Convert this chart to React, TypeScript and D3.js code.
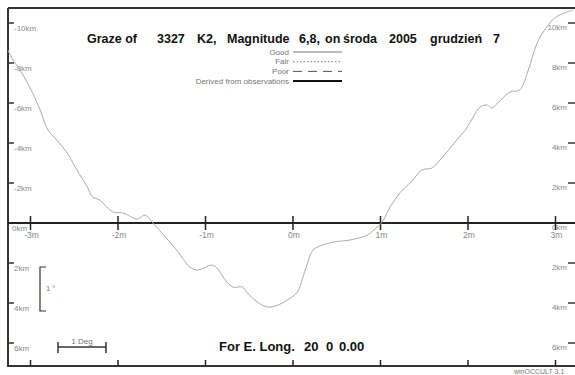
import React from "react";
import * as d3 from "d3";

// profile: minutes of arc from central line vs km from limit
const profMin = [
  -3.26, -3.2, -3.12, -3.01, -2.89, -2.8, -2.7, -2.58, -2.47, -2.35, -2.29, -2.21,
  -2.06, -1.94, -1.78, -1.69, -1.61, -1.46, -1.33, -1.18, -1.09, -0.93, -0.87, -0.8,
  -0.69, -0.58, -0.53, -0.41, -0.29, -0.17, -0.03, 0.05, 0.14, 0.23, 0.34, 0.46,
  0.65, 0.85, 0.96, 1.02, 1.11, 1.22, 1.37, 1.47, 1.59, 1.68, 1.76, 1.87, 1.97,
  2.06, 2.14, 2.22, 2.27, 2.34, 2.48, 2.59, 2.69, 2.79, 2.9, 2.99, 3.13, 3.2,
];
const profKm = [
  -8.65, -8.15, -7.65, -6.8, -5.65, -4.65, -4.15, -3.5, -2.65, -1.8, -1.3, -1.15,
  -0.55, -0.5, -0.2, -0.4, -0.05, 0.7, 1.35, 2.2, 2.35, 2.1, 2.25, 2.7,
  3.2, 3.2, 3.45, 3.95, 4.2, 4.1, 3.75, 3.45, 2.35, 1.35, 1.1, 0.95,
  0.85, 0.6, 0.2, -0.05, -0.8, -1.5, -2.15, -2.65, -2.75, -3.15, -3.55, -4.15, -4.65,
  -5.3, -5.8, -5.9, -5.75, -6.0, -6.55, -6.65, -7.65, -9.0, -9.8, -10.25, -10.55, -10.65,
];
const kmTicks = [-10, -8, -6, -4, -2, 0, 2, 4, 6];
const minTicks = [-3, -2, -1, 0, 1, 2, 3];
const legendItems = ["Good", "Fair", "Poor", "Derived from observations"];
const titleWords = ["Graze of", "3327", "K2,", "Magnitude", "6,8,", "on", "środa", "2005", "grudzień", "7"];
const titleX = [87, 157, 197, 227, 299, 325, 343, 389, 430, 493];
const longWords = ["For E. Long.", "20", "0", "0.00"];
const longX = [219, 304, 326, 339];

const W = 575;
const H = 375;
const F = "'Liberation Sans', Arial, sans-serif";

export default function App() {
  const x = d3.scaleLinear().domain([-3, 3]).range([30.5, 555.5]);
  const y = d3.scaleLinear().domain([-10, 6]).range([23, 343]);
  const pts = profMin.map((m, i) => [m, profKm[i]] as [number, number]);
  const line = d3
    .line<[number, number]>()
    .x((d) => x(d[0]))
    .y((d) => y(d[1]))
    .curve(d3.curveCatmullRom);

  const legendStyles = [
    { w: 1, dash: "", c: "#777" },
    { w: 1, dash: "1.5 2", c: "#777" },
    { w: 1, dash: "9 6", c: "#555" },
    { w: 2, dash: "", c: "#111" },
  ];
  const lblColor = "#888";

  return (
    <svg
      width={W}
      height={H}
      style={{ position: "absolute", left: 0, top: 0, background: "#fff" }}
      fontFamily={F}
    >
      {/* frame */}
      <line x1={8} y1={8} x2={W} y2={8} stroke="#333" strokeWidth={2} />
      <line x1={8} y1={8} x2={8} y2={367} stroke="#333" strokeWidth={2} />
      <line x1={8} y1={366} x2={W} y2={366} stroke="#333" strokeWidth={2} />

      {/* km ticks left and right */}
      {kmTicks.map((k) => (
        <g key={"k" + k}>
          {k !== 0 && <line x1={8} x2={14} y1={y(k)} y2={y(k)} stroke="#333" strokeWidth={1.5} />}
          {k !== 0 && <line x1={568} x2={W} y1={y(k)} y2={y(k)} stroke="#333" strokeWidth={1.5} />}
          <text x={k === 0 ? 12 : 14} y={y(k) + 7.5} fontSize={8} fill={lblColor}>
            {k + "km"}
          </text>
          <text x={567} y={y(k) + 6.5} fontSize={8} fill={lblColor} textAnchor="end">
            {Math.abs(k) + "km"}
          </text>
        </g>
      ))}

      {/* central axis */}
      <line x1={8} x2={W} y1={y(0)} y2={y(0)} stroke="#222" strokeWidth={2} />
      {minTicks.map((m) => (
        <g key={"m" + m}>
          <line x1={x(m)} x2={x(m)} y1={y(0) - 7} y2={y(0) + 7} stroke="#222" strokeWidth={1.5} />
          <line x1={x(m)} x2={x(m)} y1={360} y2={366} stroke="#222" strokeWidth={1.5} />
          <text x={x(m) + 1} y={y(0) + 15} fontSize={8.5} fill={lblColor} textAnchor="middle">
            {m + "m"}
          </text>
        </g>
      ))}

      {/* profile */}
      <path d={line(pts) || ""} fill="none" stroke="#aaa" strokeWidth={1} />

      {/* title */}
      <text y={43} fontSize={12.5} fontWeight="bold" fill="#111">
        {titleWords.map((w, i) => (
          <tspan key={i} x={titleX[i]}>
            {w}
          </tspan>
        ))}
      </text>

      {/* legend */}
      {legendItems.map((t, i) => {
        const ly = 52 + i * 9.7;
        const s = legendStyles[i];
        return (
          <g key={t}>
            <text x={289} y={ly + 2.5} fontSize={8} fill="#777" textAnchor="end">
              {t}
            </text>
            <line
              x1={293}
              x2={342}
              y1={ly}
              y2={ly}
              stroke={s.c}
              strokeWidth={s.w}
              strokeDasharray={s.dash}
            />
          </g>
        );
      })}

      {/* 1 degree vertical bracket */}
      <path d="M46,267 H40 V311 H46" fill="none" stroke="#333" strokeWidth={1.2} />
      <text x={46} y={291} fontSize={7.5} fill="#777">
        1 °
      </text>

      {/* 1 Deg horizontal bar */}
      <line x1={58} x2={106} y1={347} y2={347} stroke="#333" strokeWidth={1.5} />
      <line x1={58} x2={58} y1={342} y2={353} stroke="#333" strokeWidth={1.5} />
      <line x1={106} x2={106} y1={342} y2={353} stroke="#333" strokeWidth={1.5} />
      <text x={82} y={344} fontSize={8} fill="#777" textAnchor="middle">
        1 Deg
      </text>

      {/* longitude */}
      <text y={351} fontSize={13} fontWeight="bold" fill="#111">
        {longWords.map((w, i) => (
          <tspan key={i} x={longX[i]}>
            {w}
          </tspan>
        ))}
      </text>

      <text x={514} y={374} fontSize={7} fill="#777">
        winOCCULT 3.1
      </text>
    </svg>
  );
}
